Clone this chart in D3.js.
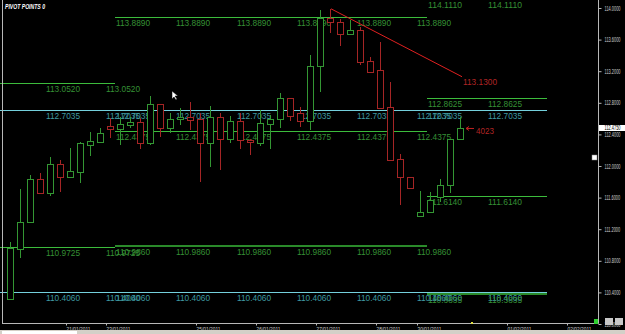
<!DOCTYPE html>
<html>
<head>
<meta charset="utf-8">
<script src="https://d3js.org/d3.v7.min.js"></script>
<style>
  body { margin: 0; background: #000; overflow: hidden; }
  svg { display: block; }
  text { font-family: "Liberation Sans", Arial, sans-serif; }
</style>
</head>
<body>
<svg id="chart" width="625" height="334"></svg>
<script>
// USDJPY-ish 4h bars, index 0 = leftmost bar
const opens  = [110.316, 110.949, 111.291, 111.835, 111.658, 112.025, 111.861, 111.924, 112.266, 112.304,
                112.506, 112.468, 112.519, 112.557, 112.291, 112.785, 112.481, 112.595, 112.620, 112.595,
                112.291, 112.620, 112.342, 112.570, 112.329, 112.291, 112.532, 112.595, 112.861, 112.671,
                112.570, 113.266, 113.873, 113.823, 113.671, 113.722, 113.329, 113.215, 112.747, 112.089,
                111.861, 111.367, 111.418, 111.608, 111.759, 112.342];
const highs  = [111.038, 111.709, 111.886, 111.911, 112.114, 112.076, 112.228, 112.304, 112.430, 112.481,
                112.608, 112.620, 112.620, 112.608, 112.886, 112.785, 112.671, 112.734, 112.810, 112.671,
                112.759, 112.671, 112.633, 112.671, 112.342, 112.709, 112.646, 112.924, 112.861, 112.747,
                113.405, 113.975, 113.987, 113.861, 113.848, 113.759, 113.380, 113.570, 113.063, 112.152,
                111.861, 111.684, 111.671, 111.835, 112.342, 112.620];
const lows   = [110.300, 110.835, 111.291, 111.658, 111.620, 111.671, 111.861, 111.785, 112.127, 112.304,
                112.354, 112.266, 112.481, 112.215, 112.266, 112.367, 112.418, 112.519, 112.456, 111.797,
                111.987, 111.949, 112.291, 112.215, 112.139, 112.253, 112.215, 112.481, 112.570, 112.494,
                112.456, 112.937, 113.684, 113.519, 113.671, 113.278, 113.177, 112.734, 112.076, 111.506,
                111.722, 111.367, 111.418, 111.544, 111.658, 112.342];
const closes = [110.962, 111.291, 111.835, 111.658, 112.025, 111.861, 111.937, 112.291, 112.316, 112.418,
                112.468, 112.532, 112.557, 112.291, 112.785, 112.481, 112.595, 112.620, 112.582, 112.291,
                112.620, 112.342, 112.570, 112.329, 112.304, 112.544, 112.595, 112.861, 112.633, 112.570,
                113.266, 113.873, 113.823, 113.671, 113.722, 113.316, 113.190, 112.734, 112.076, 111.861,
                111.722, 111.418, 111.570, 111.759, 112.342, 112.475];

const yTicks = [114.0, 113.6, 113.2, 112.8, 112.4, 112.0, 111.6, 111.2, 110.8, 110.4, 110.0];

const dateLabels = ["21/01/2011", "23/01/2011", "25/01/2011", "26/01/2011", "27/01/2011",
                    "28/01/2011", "30/01/2011", "01/02/2011", "02/02/2011"];
const datePos = [5.6, 9.6, 18.6, 24.6, 30.6, 36.6, 40.7, 49.7, 55.7];

// pivot periods (weeks) and where each day's label is repeated
const periodStart = [-1, 10.5, 41.7];
const periodEnd = [10.5, 41.7, 53.7];
const periodLabelAt = [[3.6, 9.6], [10.6, 16.6, 22.7, 28.7, 34.7, 40.7], [41.8, 47.8]];

const levelPeriod = [0, 0, 0, 0, 1, 1, 1, 1, 1, 2, 2, 2, 2, 2, 2];
const levelValue = [113.0520, 112.7035, 110.9725, 110.4060,
                    113.8890, 112.7035, 112.4375, 110.9860, 110.4060,
                    114.1110, 112.8625, 112.7035, 111.6140, 110.4060, 110.3835];
const levelKind = ["res", "piv", "sup", "piv",
                   "res", "piv", "res", "deep", "piv",
                   "res", "res", "piv", "sup", "piv", "deep"];

const trendIdx = [32.1, 45.2];
const trendVal = [113.99, 113.13];
const lastPrice = 112.4750;

const W = 625, H = 334;
const axisX = 598.5, axisY = 323.5;

const svg = d3.select("#chart");
svg.append("rect").attr("width", W).attr("height", H).attr("fill", "#000");

const x = d3.scaleLinear().domain([-1, 58.8]).range([0, 598]);
const y = d3.scaleLinear().domain([110, 114]).range([324, 8]);
const fmt = d3.format(".4f");

const lineColor = { res: "#3cbc3c", sup: "#3cbc3c", deep: "#2a8a2a", piv: "#74d0dc" };
const labelColor = { res: "#359035", sup: "#359035", deep: "#359035", piv: "#3f9aa2" };
const lineWidth = { res: 1, sup: 1, deep: 2, piv: 1 };

// pivot level lines
const levels = levelValue.map((v, i) => ({ v, p: levelPeriod[i], k: levelKind[i] }));
const lv = svg.append("g").attr("shape-rendering", "crispEdges");
lv.selectAll("line").data(levels).enter().append("line")
  .attr("x1", d => x(periodStart[d.p]))
  .attr("x2", d => x(periodEnd[d.p]))
  .attr("y1", d => Math.round(y(d.v)) + (lineWidth[d.k] === 1 ? 0.5 : 0))
  .attr("y2", d => Math.round(y(d.v)) + (lineWidth[d.k] === 1 ? 0.5 : 0))
  .attr("stroke", d => lineColor[d.k])
  .attr("stroke-width", d => lineWidth[d.k]);

// repeated labels for each day
const labelData = [];
levels.forEach(d => periodLabelAt[d.p].forEach(at => labelData.push({ ...d, at })));
svg.append("g").selectAll("text").data(labelData).enter().append("text")
  .attr("x", d => x(d.at))
  .attr("y", d => y(d.v) + 9)
  .attr("font-size", 8.5)
  .attr("textLength", 34)
  .attr("lengthAdjust", "spacingAndGlyphs")
  .attr("fill", d => labelColor[d.k])
  .text(d => fmt(d.v));

// candles
const bars = opens.map((o, i) => ({ i, o, h: highs[i], l: lows[i], c: closes[i] }));
const upCol = "#339633", downCol = "#a52525";
const cg = svg.append("g").attr("shape-rendering", "crispEdges");
const candle = cg.selectAll("g").data(bars).enter().append("g");
candle.append("line")
  .attr("x1", d => Math.round(x(d.i)) + 0.5)
  .attr("x2", d => Math.round(x(d.i)) + 0.5)
  .attr("y1", d => Math.round(y(d.h)))
  .attr("y2", d => Math.round(y(d.l)))
  .attr("stroke", d => d.c >= d.o ? upCol : downCol);
candle.append("rect")
  .attr("x", d => Math.round(x(d.i)) - 3 + 0.5)
  .attr("width", 6)
  .attr("y", d => Math.round(y(Math.max(d.o, d.c))) + 0.5)
  .attr("height", d => Math.max(1, Math.round(y(Math.min(d.o, d.c))) - Math.round(y(Math.max(d.o, d.c)))))
  .attr("fill", "#000")
  .attr("stroke", d => d.c >= d.o ? upCol : downCol);

// trend line
svg.append("line")
  .attr("x1", x(trendIdx[0])).attr("y1", y(trendVal[0]))
  .attr("x2", x(trendIdx[1])).attr("y2", y(trendVal[1]))
  .attr("stroke", "#e02020").attr("stroke-width", 1);
svg.append("text")
  .attr("x", x(trendIdx[1]) + 1).attr("y", y(trendVal[1]) + 8)
  .attr("font-size", 8.5).attr("textLength", 34).attr("lengthAdjust", "spacingAndGlyphs")
  .attr("fill", "#b02525").text(fmt(trendVal[1]));

// little price arrow next to last bar
const lastY = y(lastPrice);
svg.append("path")
  .attr("d", `M${x(45.6)},${lastY} l8,0 M${x(45.6)},${lastY} l3,-2 M${x(45.6)},${lastY} l3,2`)
  .attr("stroke", "#c02020").attr("fill", "none");
svg.append("text")
  .attr("x", x(46.6)).attr("y", lastY + 6)
  .attr("font-size", 8.5).attr("textLength", 18).attr("lengthAdjust", "spacingAndGlyphs")
  .attr("fill", "#b02525").text("4023");

// frame
const fr = svg.append("g").attr("shape-rendering", "crispEdges").attr("stroke", "#b8b8b8");
fr.append("line").attr("x1", 2.5).attr("x2", 2.5).attr("y1", 0).attr("y2", axisY);

// right price axis (labels squeezed horizontally, like the terminal's tiny font)
const yAxis = svg.append("g")
  .attr("transform", `translate(${axisX},0)`)
  .call(d3.axisRight(y).tickValues(yTicks).tickFormat(fmt).tickSize(3).tickPadding(3).tickSizeOuter(0));
yAxis.select(".domain").attr("stroke", "#b8b8b8").attr("d", `M0,0V${axisY}`);
yAxis.selectAll(".tick line").attr("stroke", "#b8b8b8");
yAxis.selectAll("text")
  .attr("x", 0)
  .attr("transform", "translate(6,0) scale(0.6,1)")
  .attr("fill", "#d0d0d0").attr("font-size", 6.5).attr("font-family", "Liberation Sans, Arial");

// last price box
svg.append("rect")
  .attr("x", axisX + 0.5).attr("y", Math.round(lastY) - 3)
  .attr("width", W - axisX).attr("height", 6).attr("fill", "#fff");
svg.append("text")
  .attr("transform", `translate(${axisX + 6},${Math.round(lastY) + 2}) scale(0.6,1)`)
  .attr("font-size", 6.5)
  .attr("fill", "#000").text(fmt(lastPrice));

// bottom time axis
const xAxis = svg.append("g")
  .attr("transform", `translate(0,${axisY})`)
  .call(d3.axisBottom(x).tickValues(datePos).tickFormat((d, i) => dateLabels[i]).tickSize(2).tickPadding(1).tickSizeOuter(0));
xAxis.select(".domain").attr("stroke", "#b8b8b8").attr("d", `M2,0H${axisX}`);
xAxis.selectAll(".tick line").attr("stroke", "#b8b8b8");
xAxis.selectAll("text")
  .attr("fill", "#d0d0d0").attr("font-size", 6).attr("text-anchor", "start")
  .attr("font-family", "Liberation Sans, Arial")
  .attr("textLength", 24).attr("lengthAdjust", "spacingAndGlyphs");

// title
svg.append("text")
  .attr("x", 5).attr("y", 9)
  .attr("font-size", 7).attr("font-weight", "bold").attr("font-style", "italic")
  .attr("textLength", 40).attr("lengthAdjust", "spacingAndGlyphs")
  .attr("fill", "#fff").text("PIVOT POINTS 0");

// bits of terminal chrome
svg.append("rect").attr("x", 0).attr("y", 330).attr("width", W).attr("height", 4).attr("fill", "#d4d0c8");
svg.append("rect").attr("x", 2).attr("y", 331).attr("width", 75).attr("height", 3).attr("fill", "#fff");
svg.append("rect").attr("x", 594).attr("y", 319).attr("width", 4).attr("height", 5).attr("fill", "#30d030");
svg.append("rect").attr("x", 471).attr("y", 322).attr("width", 2).attr("height", 2).attr("fill", "#e0e040");
svg.append("rect").attr("x", 605).attr("y", 318).attr("width", 8).attr("height", 7).attr("fill", "#c8c8c8");
svg.append("rect").attr("x", 615).attr("y", 318).attr("width", 8).attr("height", 7).attr("fill", "#c8c8c8");
svg.append("rect").attr("x", 592).attr("y", 155).attr("width", 5).attr("height", 5)
  .attr("fill", "#fff").attr("stroke", "#888").attr("stroke-width", 0.5);
// mouse pointer
svg.append("path")
  .attr("d", "M172,91 L172,99 L174,97 L176,100 L177,99 L175,96 L178,96 Z")
  .attr("fill", "#fff").attr("stroke", "#000").attr("stroke-width", 0.5);
</script>
</body>
</html>
